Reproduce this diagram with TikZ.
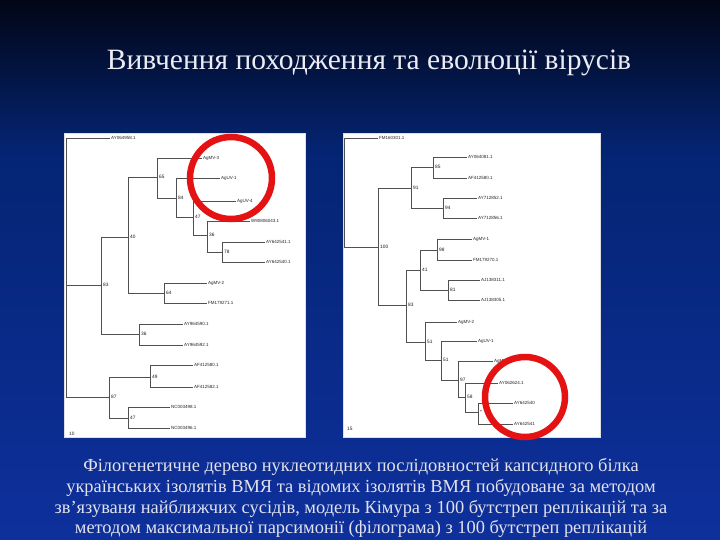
\documentclass[tikz,border=0pt]{standalone}
\usepackage{fontspec}
\setmainfont{Liberation Serif}
\newfontfamily\treefont{Liberation Sans}
\definecolor{bgtop}{RGB}{2,6,22}
\definecolor{bgmid}{RGB}{4,36,115}
\definecolor{bgbot}{RGB}{14,48,156}
\definecolor{treegray}{RGB}{80,80,80}
\definecolor{ringred}{RGB}{228,18,18}
\definecolor{titlecol}{RGB}{236,236,244}
\definecolor{capcol}{RGB}{226,226,236}
\tikzset{
  br/.style={draw=treegray, line width=0.65pt},
  leaf/.style={anchor=west, inner sep=1pt, font=\treefont\fontsize{4.5}{5}\selectfont, text=black!85},
  boot/.style={anchor=west, inner sep=0pt, xshift=2pt, font=\treefont\fontsize{4.8}{5}\selectfont, text=black!90},
  ring/.style={draw=ringred, line width=6.5pt},
  panel/.style={fill=white, draw=gray!25, line width=0.5pt},
  titletext/.style={text=titlecol, font=\fontsize{29.5}{34}\selectfont, inner sep=0pt},
  captext/.style={text=capcol, font=\fontsize{18.4}{20.8}\selectfont, align=center, inner sep=0pt},
}
\newcommand\inode[4]{\coordinate (#1) at (#2,#3); \node[boot] (#1b) at (#1) {#4};}
\newcommand\lf[4]{\node[leaf] (#1) at (#2,#3) {#4};}
\begin{document}
\begin{tikzpicture}[x=1pt,y=-1pt]
\useasboundingbox (0,0) rectangle (720,540);
% background
\shade[top color=bgtop, bottom color=bgmid] (0,0) rectangle (720,150);
\shade[top color=bgmid, bottom color=bgbot] (0,149.5) rectangle (720,540);

% title
\node[titletext] (title) at (369,63) {Вивчення походження та еволюції вірусів};

% panels
\node[panel, minimum width=241pt, minimum height=304pt, inner sep=0pt] (lpanel) at (184.5,285) {};
\node[panel, minimum width=257pt, minimum height=304pt, inner sep=0pt] (rpanel) at (471.5,285) {};

% ---------- left tree ----------
\coordinate (LR) at (66,285);
\lf{La1}{110}{138}{AY064958.1}
\inode{LA}{101}{285}{83}
\inode{LB}{128}{237}{40}
\inode{LC}{157}{177}{65}
\lf{Lc1}{202}{158}{AgMV-3}
\inode{LD}{176}{198}{84}
\lf{Ld1}{220}{178}{AgUV-1}
\inode{LE}{193}{217}{47}
\lf{Le1}{236}{201}{AgUV-4}
\inode{LF}{207}{235}{36}
\lf{Lf1}{250}{221}{W90806043.1}
\inode{LG}{222}{252}{78}
\lf{Lg1}{265}{242}{AY642541.1}
\lf{Lg2}{265}{262}{AY642540.1}
\inode{LH}{164}{293}{64}
\lf{Lh1}{207}{283}{AgMV-2}
\lf{Lh2}{207}{303}{FM179271.1}
\inode{LI}{139}{334}{36}
\lf{Li1}{183}{324}{AY964590.1}
\lf{Li2}{183}{345}{AY964592.1}
\inode{LJ}{109}{397}{87}
\inode{LK}{150}{377}{49}
\lf{Lk1}{193}{365}{AF412580.1}
\lf{Lk2}{193}{387}{AF412582.1}
\inode{LL}{128}{418}{47}
\lf{Ll1}{170}{407}{NC003498.1}
\lf{Ll2}{170}{428}{NC003496.1}
\node[boot, xshift=0pt] (Lscale) at (67,434) {10};

\draw[br] (LR) |- (La1.west);
\draw[br] (LR) |- (LA);
\draw[br] (LR) |- (LJ);
\draw[br] (LA) |- (LB);
\draw[br] (LA) |- (LI);
\draw[br] (LB) |- (LC);
\draw[br] (LB) |- (LH);
\draw[br] (LC) |- (Lc1.west);
\draw[br] (LC) |- (LD);
\draw[br] (LD) |- (Ld1.west);
\draw[br] (LD) |- (LE);
\draw[br] (LE) |- (Le1.west);
\draw[br] (LE) |- (LF);
\draw[br] (LF) |- (Lf1.west);
\draw[br] (LF) |- (LG);
\draw[br] (LG) |- (Lg1.west);
\draw[br] (LG) |- (Lg2.west);
\draw[br] (LH) |- (Lh1.west);
\draw[br] (LH) |- (Lh2.west);
\draw[br] (LI) |- (Li1.west);
\draw[br] (LI) |- (Li2.west);
\draw[br] (LJ) |- (LK);
\draw[br] (LJ) |- (LL);
\draw[br] (LK) |- (Lk1.west);
\draw[br] (LK) |- (Lk2.west);
\draw[br] (LL) |- (Ll1.west);
\draw[br] (LL) |- (Ll2.west);

% ---------- right tree ----------
\coordinate (RR) at (344,247);
\lf{Ra1}{378}{138}{FM160301.1}
\inode{RA}{378}{247}{100}
\inode{RB}{411}{188}{91}
\inode{RC}{433}{167}{85}
\lf{Rc1}{467}{157}{AY064081.1}
\lf{Rc2}{467}{178}{AF412580.1}
\inode{RD}{443}{208}{94}
\lf{Rd1}{477}{198}{AY712852.1}
\lf{Rd2}{477}{218}{AY712856.1}
\inode{RE}{406}{305}{83}
\inode{RF}{420}{270}{41}
\inode{RG}{437}{250}{98}
\lf{Rg1}{472}{239}{AgMV-1}
\lf{Rg2}{472}{260}{FM179270.1}
\inode{RH}{448}{290}{81}
\lf{Rh1}{480}{280}{AJ138311.1}
\lf{Rh2}{480}{300}{AJ138305.1}
\inode{RI}{425}{342}{51}
\lf{Ri1}{457}{322}{AgMV-2}
\inode{RJ}{441}{360}{51}
\lf{Rj1}{477}{341}{AgUV-1}
\inode{RK}{458}{380}{97}
\lf{Rk1}{493}{361}{AgMV-3}
\inode{RL}{465}{397}{58}
\lf{Rl1}{498}{383}{AY062624.1}
\inode{RM}{478}{412}{*}
\lf{Rm1}{513}{403}{AY642540}
\lf{Rm2}{513}{424}{AY642541}
\node[boot, xshift=0pt] (Rscale) at (345,429) {15};

\draw[br] (RR) |- (Ra1.west);
\draw[br] (RR) |- (RA);
\draw[br] (RA) |- (RB);
\draw[br] (RA) |- (RE);
\draw[br] (RB) |- (RC);
\draw[br] (RB) |- (RD);
\draw[br] (RC) |- (Rc1.west);
\draw[br] (RC) |- (Rc2.west);
\draw[br] (RD) |- (Rd1.west);
\draw[br] (RD) |- (Rd2.west);
\draw[br] (RE) |- (RF);
\draw[br] (RE) |- (RI);
\draw[br] (RF) |- (RG);
\draw[br] (RF) |- (RH);
\draw[br] (RG) |- (Rg1.west);
\draw[br] (RG) |- (Rg2.west);
\draw[br] (RH) |- (Rh1.west);
\draw[br] (RH) |- (Rh2.west);
\draw[br] (RI) |- (Ri1.west);
\draw[br] (RI) |- (RJ);
\draw[br] (RJ) |- (Rj1.west);
\draw[br] (RJ) |- (RK);
\draw[br] (RK) |- (Rk1.west);
\draw[br] (RK) |- (RL);
\draw[br] (RL) |- (Rl1.west);
\draw[br] (RL) |- (RM);
\draw[br] (RM) |- (Rm1.west);
\draw[br] (RM) |- (Rm2.west);

% red rings
\node[ring, circle, minimum size=82pt, inner sep=0pt] (lring) at (231,178) {};
\node[ring, circle, minimum size=80pt, inner sep=0pt] (rring) at (525,397) {};

% caption
\node[captext] (caption) at (361,498) {Філогенетичне дерево нуклеотидних послідовностей капсидного білка\\
українських ізолятів ВМЯ та відомих ізолятів ВМЯ побудоване за методом\\
зв’язуваня найближчих сусідів, модель Кімура з 100 бутстреп реплікацій та за\\
методом максимальної парсимонії (філограма) з 100 бутстреп реплікацій};
\end{tikzpicture}
\end{document}
